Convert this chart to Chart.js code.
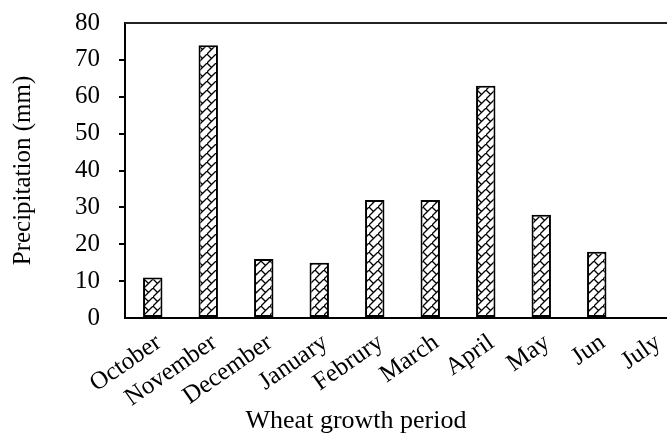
<!DOCTYPE html>
<html>
<head>
<meta charset="utf-8">
<script src="https://cdn.jsdelivr.net/npm/chart.js@4.4.1/dist/chart.umd.min.js"></script>
<style>
  html, body { margin: 0; padding: 0; background: #fff; overflow: hidden; }
  #wrap { width: 667px; height: 437px; overflow: hidden; }
</style>
</head>
<body>
<div id="wrap"><canvas id="rainChart" width="680" height="437"></canvas></div>
<script>
const months = ["October", "November", "December", "January", "Februry", "March", "April", "May", "Jun", "July"];
const precipitation = [11, 74, 16, 15, 32, 32, 63, 28, 18, 0];
const yTitle = "Precipitation (mm)";
const xTitle = "Wheat growth period";

const serif = "'Liberation Serif', 'Times New Roman', serif";

// hatch fill like the original bars
function makeHatch() {
  const c = document.createElement("canvas");
  c.width = 9; c.height = 9;
  const g = c.getContext("2d");
  g.fillStyle = "#fff";
  g.fillRect(0, 0, 9, 9);
  g.strokeStyle = "#000";
  g.lineWidth = 1.3;
  g.beginPath();
  g.moveTo(-1, 10); g.lineTo(10, -1);
  g.moveTo(0, 0); g.lineTo(4.5, 4.5);
  g.stroke();
  return g.createPattern(c, "repeat");
}

const ctx = document.getElementById("rainChart");

new Chart(ctx, {
  type: "bar",
  data: {
    labels: months,
    datasets: [{
      label: "Precipitation",
      data: precipitation,
      backgroundColor: makeHatch(),
      borderColor: "#000",
      borderWidth: 2,
      borderSkipped: false,
      categoryPercentage: 1,
      barPercentage: 0.35
    }]
  },
  options: {
    responsive: false,
    animation: false,
    devicePixelRatio: 1,
    layout: { padding: { top: 23, right: 0, left: 0, bottom: 0 } },
    plugins: {
      legend: { display: false },
      tooltip: { enabled: false }
    },
    scales: {
      x: {
        grid: { display: false },
        border: { display: true, color: "#000", width: 2 },
        ticks: {
          autoSkip: false,
          maxRotation: 35,
          minRotation: 35,
          padding: 2,
          labelOffset: 6,
          color: "#000",
          font: { family: serif, size: 25 }
        },
        afterFit(scale) { scale.height = 119; }
      },
      y: {
        min: 0,
        max: 80,
        ticks: {
          stepSize: 10,
          padding: 19,
          color: "#000",
          font: { family: serif, size: 25 }
        },
        grid: {
          drawOnChartArea: false,
          tickLength: 6,
          lineWidth: 2,
          color: c => (c.tick && (c.tick.value === 0 || c.tick.value === 80)) ? "rgba(0,0,0,0)" : "#000"
        },
        border: { display: true, color: "#000", width: 2 },
        title: {
          display: true,
          text: yTitle,
          color: "#000",
          padding: { top: 8, bottom: 0 },
          font: { family: serif, size: 25 }
        },
        afterFit(scale) {
          scale.width = 125;
          // keep label padding from pushing the plot down
          scale.paddingTop = 0;
          scale.paddingBottom = 0;
        }
      }
    }
  },
  plugins: [{
    id: "frameAndTitle",
    afterDraw(chart) {
      const { ctx, chartArea } = chart;
      ctx.save();
      ctx.strokeStyle = "#222";
      ctx.lineWidth = 2;
      ctx.beginPath();
      ctx.moveTo(chartArea.left, chartArea.top);
      ctx.lineTo(chartArea.right, chartArea.top);
      ctx.lineTo(chartArea.right, chartArea.bottom);
      ctx.stroke();
      ctx.fillStyle = "#000";
      ctx.font = "26px " + serif;
      ctx.textAlign = "center";
      ctx.textBaseline = "middle";
      ctx.fillText(xTitle, 356, 421);
      ctx.restore();
    }
  }, {
    id: "whiteBg",
    beforeDraw(chart) {
      const { ctx } = chart;
      ctx.save();
      ctx.globalCompositeOperation = "destination-over";
      ctx.fillStyle = "white";
      ctx.fillRect(0, 0, chart.width, chart.height);
      ctx.restore();
    }
  }]
});
</script>
</body>
</html>
